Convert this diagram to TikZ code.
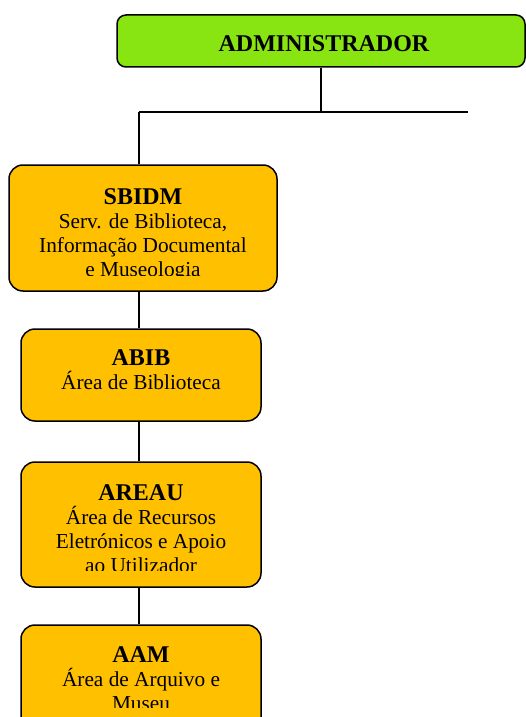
\documentclass[tikz,border=0pt]{standalone}
\usepackage{fontspec}
\setmainfont{Liberation Serif}
\usetikzlibrary{calc}
\definecolor{admgreen}{HTML}{88E511}
\definecolor{unitgold}{HTML}{FFC000}
\tikzset{
  unitbox/.style={draw=black, line width=1.5pt, rounded corners=14pt, fill=unitgold, inner sep=0pt},
  admbox/.style={unitbox, fill=admgreen, rounded corners=9pt},
  unittext/.style={anchor=north, inner sep=0pt, align=center,
    font=\fontsize{21.3}{24}\selectfont},
  title/.style={font=\bfseries\fontsize{24}{24}\selectfont},
  link/.style={draw=black, line width=1.3pt}
}
\begin{document}
\begin{tikzpicture}[x=1pt,y=-1pt]
\useasboundingbox (0,0) rectangle (526,717);
\clip (0,0) rectangle (526,717);

% boxes
\node[admbox, minimum width=408pt, minimum height=52pt] (adm) at (321,41) {};
\node[unitbox, minimum width=268pt, minimum height=126pt] (sbidm) at (143,228) {};
\node[unitbox, minimum width=240pt, minimum height=92pt] (abib) at (141,375) {};
\node[unitbox, minimum width=240pt, minimum height=125pt] (areau) at (141,524.5) {};
\node[unitbox, minimum width=240pt, minimum height=120pt] (aam) at (141,685) {};

% connectors
\coordinate (hub) at (321,112);
\coordinate (hL) at (139,112);
\coordinate (hR) at (468,112);
\draw[link] (adm.south -| hub) -- (hub);
\draw[link] (hL) -- (hR);
\draw[link] (hL) -- (hL |- sbidm.north);
\draw[link] (sbidm.south -| hL) -- (abib.north -| hL);
\draw[link] (abib.south -| hL) -- (areau.north -| hL);
\draw[link] (areau.south -| hL) -- (aam.north -| hL);

% labels (the last line of the taller ones is cut off by its text frame)
\node[unittext, title] (admt) at (324,35) {ADMINISTRADOR};
\begin{scope}
  \clip (0,0) rectangle (526,275.5);
  \node[unittext] (sbidmt) at (143,188)
    {{\bfseries\fontsize{24}{24}\selectfont SBIDM}\\Serv. de Biblioteca,\\Informação Documental\\e Museologia};
\end{scope}
\node[unittext] (abibt) at (141,349)
  {{\bfseries\fontsize{24}{24}\selectfont ABIB}\\Área de Biblioteca};
\begin{scope}
  \clip (0,0) rectangle (526,570.5);
  \node[unittext] (areaut) at (141,484)
    {{\bfseries\fontsize{24}{24}\selectfont AREAU}\\Área de Recursos\\Eletrónicos e Apoio\\ao Utilizador};
\end{scope}
\begin{scope}
  \clip (0,0) rectangle (526,707.5);
  \node[unittext] (aamt) at (141,646)
    {{\bfseries\fontsize{24}{24}\selectfont AAM}\\Área de Arquivo e\\Museu};
\end{scope}
\end{tikzpicture}
\end{document}
